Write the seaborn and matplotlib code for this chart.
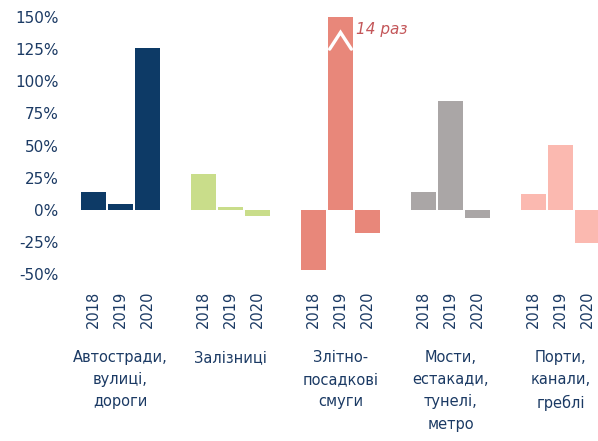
import matplotlib
matplotlib.use("Agg")
import matplotlib.pyplot as plt
import matplotlib.transforms as mtransforms
import seaborn as sns
import pandas as pd

categories = ["Автостради,\nвулиці,\nдороги", "Залізниці", "Злітно-\nпосадкові\nсмуги",
              "Мости,\nестакади,\nтунелі,\nметро", "Порти,\nканали,\nгреблі"]
years = ["2018", "2019", "2020"]
values = {
    "2018": [14, 28, -47, 14, 12.5],
    "2019": [4.5, 2, 150, 85, 50],
    "2020": [126, -5, -18, -6.5, -26],
}
colors = ["#0d3a66", "#c9dd8a", "#e8877a", "#aaa6a6", "#fbb9b0"]
yticks = [-50, -25, 0, 25, 50, 75, 100, 125, 150]
note = "14 раз"

rows = []
for y in years:
    for c, v in zip(categories, values[y]):
        rows.append({"cat": c, "year": y, "val": v})
df = pd.DataFrame(rows)

sns.set_theme(style="white")
plt.rcParams['font.family'] = ['DejaVu Sans']
text_color = "#1b3a64"

fig = plt.figure(figsize=(5.98, 4.41), dpi=100)
W, H = 598, 441
left_px, right_px, top_px, bot_px = 65.5, 598, 17, 274
ax = fig.add_axes([left_px / W, 1 - bot_px / H, (right_px - left_px) / W, (bot_px - top_px) / H])

sns.barplot(data=df, x="cat", y="val", hue="year", order=categories, hue_order=years,
            width=0.735, gap=0.04, legend=False, ax=ax, linewidth=0)

for p in ax.patches:
    cx = p.get_x() + p.get_width() / 2
    ci = int(round(cx))
    p.set_facecolor(colors[ci])
    p.set_edgecolor("none")

# year labels from patch order
pairs = []
for p in ax.patches:
    cx = p.get_x() + p.get_width() / 2
    ci = int(round(cx))
    off = cx - ci
    j = 0 if off < -0.05 else (1 if off < 0.05 else 2)
    pairs.append((cx, years[j]))
pairs.sort()
ax.set_xticks([c for c, _ in pairs])
ax.set_xticklabels([l for _, l in pairs], rotation=90, fontsize=10.5, color=text_color,
                   va="top")
ax.tick_params(axis="x", length=0, pad=12)

ax.set_xlim(-0.5, (right_px - left_px) / 110 - 0.5)
ax.set_ylim(-50, 150)
ax.set_yticks(yticks)
ax.set_yticklabels([f"{t}%" for t in yticks], fontsize=11, color=text_color)
ax.tick_params(axis="y", length=0, pad=5)
ax.set_xlabel("")
ax.set_ylabel("")
for s in ax.spines.values():
    s.set_visible(False)
ax.grid(False)

# category labels
trans = mtransforms.blended_transform_factory(ax.transData, fig.transFigure)
for i, c in enumerate(categories):
    ax.text(i, 1 - 350 / H, c, transform=trans, ha="center", va="top",
            fontsize=10.5, color=text_color, linespacing=1.6)

# annotation for clipped bar
big = max(ax.patches, key=lambda p: p.get_height())
bx = big.get_x() + big.get_width() / 2
bw = big.get_width()
ax.plot([bx - bw * 0.42, bx, bx + bw * 0.42], [125, 138, 125], color="white", lw=2.4,
        solid_joinstyle="miter", clip_on=False)
ax.text(big.get_x() + bw + 0.02, 140, note, fontsize=11, style="italic",
        color="#c4575a", va="center", ha="left")

fig.savefig("out.png", dpi=100)
